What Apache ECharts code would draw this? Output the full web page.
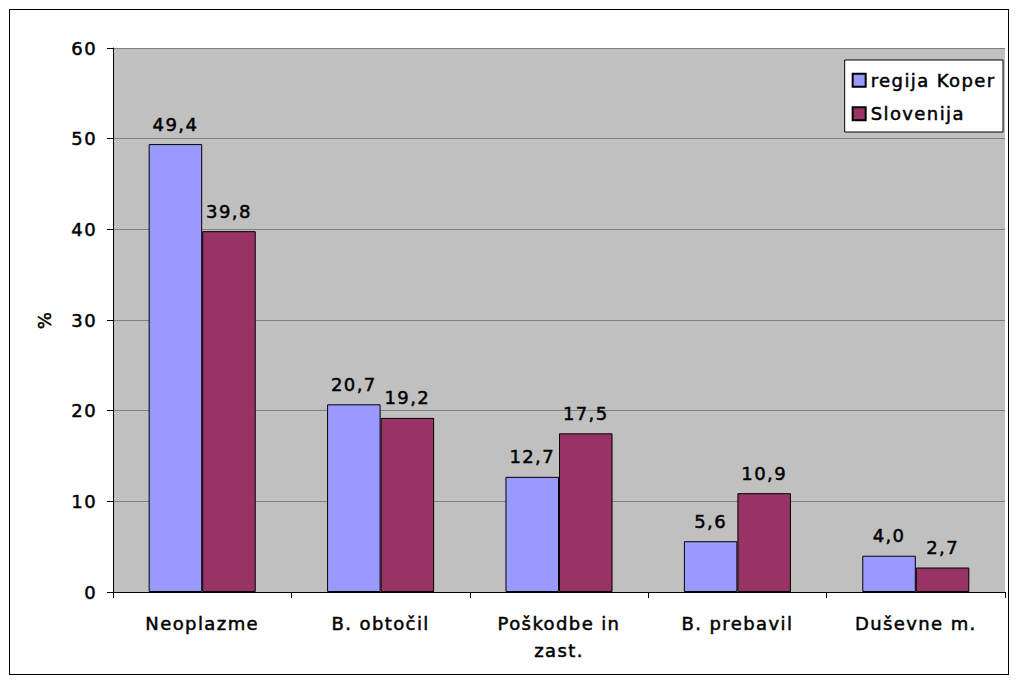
<!DOCTYPE html>
<html>
<head>
<meta charset="utf-8">
<script src="https://cdn.jsdelivr.net/npm/echarts@6/dist/echarts.min.js"></script>
<style>
html,body{margin:0;padding:0;background:#fff;}
#frame{position:absolute;left:9px;top:9px;width:1000px;height:666px;border:1px solid #000;box-sizing:border-box;}
#chart{position:absolute;left:0;top:0;width:1018px;height:682px;}
#chart text{letter-spacing:1.4px;}
</style>
</head>
<body>
<div id="frame"></div>
<div id="chart"></div>
<script>
// podatki
var categories=['Neoplazme','B. obtočil','Poškodbe in\nzast.','B. prebavil','Duševne m.'];
var koper=[49.4,20.7,12.7,5.6,4.0];
var slovenija=[39.8,19.2,17.5,10.9,2.7];
var seriesNames=['regija Koper','Slovenija'];

var font='"DejaVu Sans", Verdana, sans-serif';
var fs=18;
// malo debelejsi tekst
var txt={fontFamily:font,fontSize:fs,color:'#000',textBorderColor:'#000',textBorderWidth:0.5};
var chart=echarts.init(document.getElementById('chart'),null,{renderer:'svg'});

function lbl(p){
    return p.value.toFixed(1).replace('.',',');
}

var option={
    animation:false,
    textStyle:{fontFamily:font},
    grid:{left:113,right:13,top:48,bottom:90,show:true,backgroundColor:'#c0c0c0',borderWidth:0},
    legend:{
        right:15,top:60,orient:'vertical',
        backgroundColor:'#fff',borderColor:'#000',borderWidth:1,
        padding:[11,24,9,7],itemGap:15,itemWidth:13,itemHeight:13,
        icon:'rect',
        textStyle:Object.assign({},txt),
        data:seriesNames
    },
    xAxis:{
        type:'category',data:categories,
        axisLine:{lineStyle:{color:'#000',width:1}},
        axisTick:{show:true,inside:false,length:6,lineStyle:{color:'#000'}},
        axisLabel:Object.assign({margin:18,lineHeight:27,interval:0},txt)
    },
    yAxis:{
        type:'value',min:0,max:60,interval:10,
        name:'%',nameLocation:'middle',nameGap:60,nameRotate:90,
        nameTextStyle:Object.assign({},txt),
        axisLine:{show:true,lineStyle:{color:'#000'}},
        axisTick:{show:true,length:6,lineStyle:{color:'#000'}},
        axisLabel:Object.assign({margin:16},txt),
        splitLine:{lineStyle:{color:'#808080',width:1}}
    },
    series:[
        {
            name:seriesNames[0],type:'bar',data:koper,
            barGap:'0%',barCategoryGap:'40%',
            itemStyle:{color:'#9999ff',borderColor:'#000',borderWidth:1},
            label:Object.assign({show:true,position:'top',distance:11,formatter:lbl},txt)
        },
        {
            name:seriesNames[1],type:'bar',data:slovenija,
            itemStyle:{color:'#993366',borderColor:'#000',borderWidth:1},
            label:Object.assign({show:true,position:'top',distance:11,formatter:lbl},txt)
        }
    ]
};
chart.setOption(option);
</script>
</body>
</html>
